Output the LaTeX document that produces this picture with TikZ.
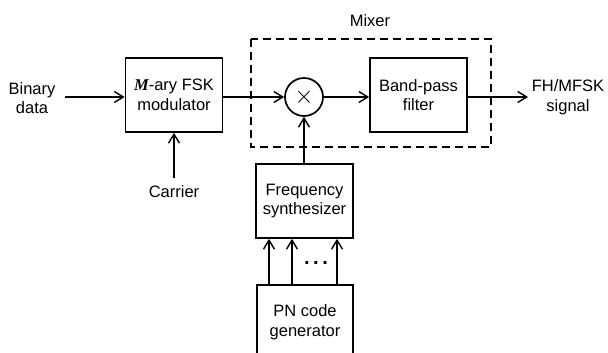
\documentclass[tikz,border=0pt]{standalone}
\usepackage{fontspec}
\setmainfont{Liberation Sans}
\newfontfamily\serifM{Liberation Serif}
\usetikzlibrary{arrows.meta}
\begin{document}
\begin{tikzpicture}[x=1pt,y=-1pt,
  every node/.style={font=\fontsize{16.5}{19.5}\selectfont, align=center, inner sep=0pt},
  blk/.style={draw, line width=1.7pt, minimum width=97pt, minimum height=74pt},
  sig/.style={line width=2.6pt, -{Straight Barb[length=9pt,width=11pt,line width=1.4pt]}},
  thinsig/.style={line width=1.8pt, -{Straight Barb[length=9pt,width=11pt,line width=1.4pt]}},
  lbl/.style={}]
\useasboundingbox (0,0) rectangle (608,353);
% mixer dashed region
\draw[line width=1.6pt, dash pattern=on 8pt off 5pt] (251,39) rectangle (491,147);
\node[lbl] (mixl) at (370,21) {Mixer};
% blocks
\node[blk] (mod) at (174,95) {{\serifM\itshape\bfseries M}-ary FSK\\modulator};
\node[draw, circle, line width=1.7pt, minimum size=38pt] (mx) at (304,97) {\fontsize{26}{26}\selectfont$\times$};
\node[blk] (bpf) at (418.5,95) {Band-pass\\filter};
\node[blk] (syn) at (304.5,201) {Frequency\\synthesizer};
\node[minimum width=96pt, minimum height=74pt] (pn) at (305,322) {PN code\\generator};
\draw[line width=1.7pt] (pn.west |- 0,353) -- (pn.north west) -- (pn.north east) -- (pn.east |- 0,353);
% labels
\node[lbl] (bin) at (32,98) {Binary\\data};
\node[lbl] (out) at (568,97) {FH/MFSK\\signal};
\node[lbl] (car) at (174,192) {Carrier};
\node[lbl] (dots) at (316,263) {\fontsize{20}{20}\selectfont\textbf{.\kern3.5pt.\kern3.5pt.}};
\coordinate (binend) at (65,97);
\coordinate (outend) at (528,97);
\coordinate (carst) at (174,178);
% connectors
\draw[thinsig] (binend) -- (mod.west |- mx);
\draw[sig] (mod.east |- mx) -- (mx.west);
\draw[sig] (mx.east) -- (bpf.west |- mx);
\draw[sig] (bpf.east |- mx) -- (outend);
\draw[sig] (carst) -- (mod.south);
\draw[sig] (syn.north -| mx) -- (mx.south);
\draw[sig] (pn.north -| 269,0) -- (syn.south -| 269,0);
\draw[sig] (pn.north -| 292,0) -- (syn.south -| 292,0);
\draw[sig] (pn.north -| 337,0) -- (syn.south -| 337,0);
\end{tikzpicture}
\end{document}
